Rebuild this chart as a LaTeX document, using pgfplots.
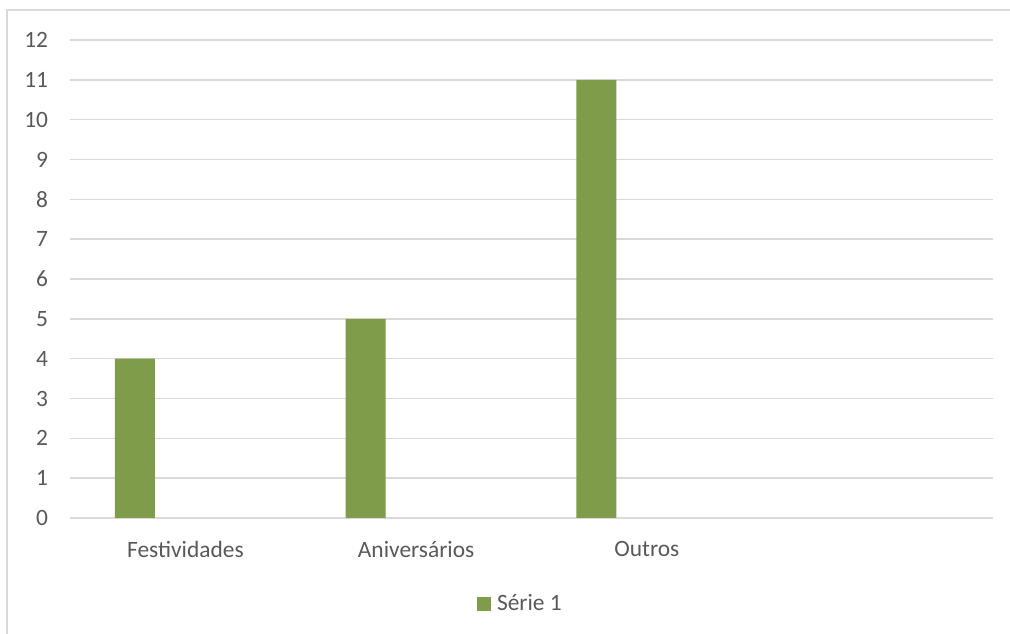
\documentclass[border=0pt]{standalone}
\usepackage{pgfplots}
\pgfplotsset{compat=1.18}
\usepackage{fontspec}
\setmainfont{Carlito}
\definecolor{txtc}{HTML}{595959}
\definecolor{gridc}{HTML}{D9D9D9}
\definecolor{barc}{HTML}{7E9C4A}
\begin{document}
\fontsize{23.5}{28}\selectfont
\begin{tikzpicture}
\useasboundingbox (0,0) rectangle (1010bp,634bp);
\draw[gridc, line width=1.5bp] (7bp,-20bp) -- (7bp,624bp) -- (1030bp,624bp);
\begin{axis}[
  at={(70bp,116bp)}, anchor=south west,
  scale only axis, width=923bp, height=478bp,
  xmin=-0.5, xmax=3.5, ymin=0, ymax=12,
  ytick={0,1,...,12},
  xtick={0,1,2}, xticklabels={Festividades,Aniversários,Outros},
  major tick length=0pt, tick style={draw=none},
  xmajorgrids=false, ymajorgrids=true,
  y grid style={draw=gridc, line width=1.5bp},
  axis line style={draw=none},
  axis x line*=bottom,
  axis y line*=left,
  /pgf/number format/assume math mode=true,
  tick label style={font=\fontsize{23.5}{28}\selectfont, text=txtc},
  yticklabel style={anchor=east, xshift=-14bp},
  xticklabel style={anchor=north, yshift=-15bp},
  legend style={at={(0.488,-0.18)}, anchor=center, draw=none, fill=none,
    font=\fontsize{23.5}{28}\selectfont, text=txtc, inner sep=0pt,
    /tikz/every even column/.append style={column sep=0pt}},
  legend image code/.code={\fill[barc] (0bp,-7bp) rectangle (14bp,7bp);
    \path (0bp,0bp) -- (18bp,0bp);},
  legend cell align=left,
]
\draw[gridc, line width=1.5bp] (axis cs:-0.5,0) -- (axis cs:3.5,0);
\addplot[ybar, bar width=40bp, bar shift=-50.4bp, fill=barc, draw=none]
  coordinates {(0,4) (1,5) (2,11)};
\addlegendentry{Série 1}
\end{axis}
\end{tikzpicture}
\end{document}
